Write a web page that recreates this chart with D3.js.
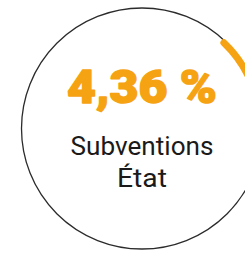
<!DOCTYPE html>
<html>
<head>
<meta charset="utf-8">
<script src="https://cdn.jsdelivr.net/npm/d3@7"></script>
<style>
  html, body { margin: 0; padding: 0; background: #fff; overflow: hidden; }
</style>
</head>
<body>
<svg id="chart" width="245" height="253"></svg>
<script>
const valueText = "4,36 %";
const labelLines = ["Subventions", "État"];
const labelWidths = [143, 50];
// arc span, in degrees clockwise from the top
const arcSpan = [42, 100];

const width = 245, height = 253;
const cx = 142, cy = 128.5, r = 120.5;
const orange = "#f6a313";

function draw() {
  const svg = d3.select('#chart');
  const g = svg.append('g')
    .attr('transform', `translate(${cx},${cy})`);

  g.append('circle')
    .attr('r', r)
    .attr('fill', 'none')
    .attr('stroke', '#2b2b2b')
    .attr('stroke-width', 1.3);

  const angle = d3.scaleLinear().domain([0, 360]).range([0, 2 * Math.PI]);

  const arc = d3.arc()
    .innerRadius(r - 5.5)
    .outerRadius(r + 1.5)
    .cornerRadius(3.5);

  g.append('path')
    .datum({ startAngle: angle(arcSpan[0]), endAngle: angle(arcSpan[1]) })
    .attr('d', arc)
    .attr('fill', orange);

  g.append('text')
    .attr('x', 0)
    .attr('y', -25.5)
    .attr('text-anchor', 'middle')
    .attr('font-family', 'Roboto, "DejaVu Sans", sans-serif')
    .attr('font-weight', 900)
    .attr('font-size', 46)
    .attr('textLength', 150)
    .attr('lengthAdjust', 'spacingAndGlyphs')
    .attr('fill', orange)
    .attr('stroke', orange)
    .attr('stroke-width', 1.4)
    .attr('stroke-linejoin', 'round')
    .text(valueText);

  g.selectAll('text.label')
    .data(labelLines)
    .enter()
    .append('text')
      .attr('class', 'label')
      .attr('x', 0)
      .attr('y', (d, i) => 26.5 + i * 32)
      .attr('text-anchor', 'middle')
      .attr('font-family', 'Roboto, "Open Sans", sans-serif')
      .attr('font-size', 26)
      .attr('textLength', (d, i) => labelWidths[i])
      .attr('lengthAdjust', 'spacingAndGlyphs')
      .attr('fill', '#1a1a1a')
      .text(d => d);
}

window.onload = draw;
</script>
</body>
</html>
